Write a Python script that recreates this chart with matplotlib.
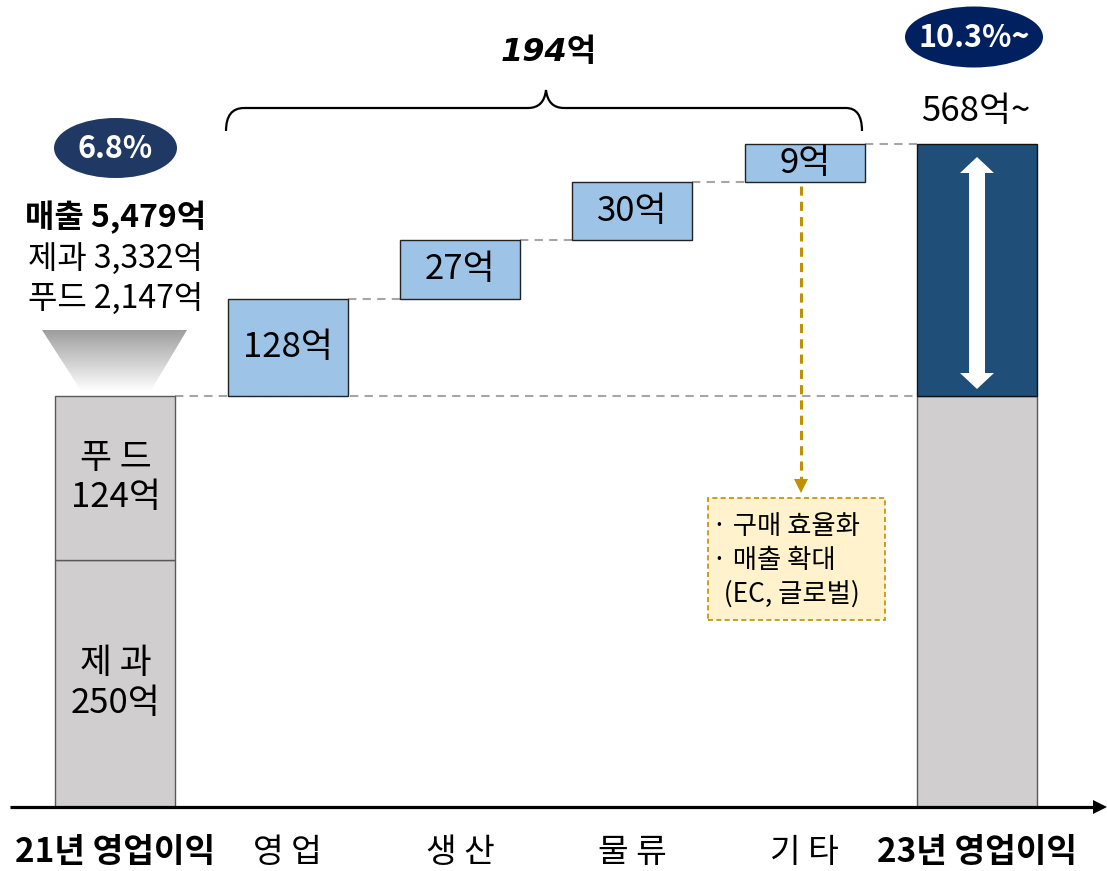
import matplotlib
matplotlib.use('Agg')
import matplotlib.pyplot as plt
import numpy as np
from matplotlib.patches import Ellipse, Polygon, Rectangle, PathPatch
from matplotlib.path import Path

plt.rcParams['font.family'] = ['Noto Sans CJK KR', 'DejaVu Sans']

# ---------------- data ----------------
categories = ['21년 영업이익', '영 업', '생 산', '물 류', '기 타', '23년 영업이익']
bold_category = [True, False, False, False, False, True]

seg_names_2021 = ['제 과', '푸 드']
seg_values_2021 = [250, 124]          # 억
seg_heights_2021 = [247, 164]         # drawn heights as shown (chart not to scale)

step_values = [128, 27, 30, 9]        # 억
step_heights = [97, 59, 58, 38]       # drawn heights as shown

total_2023_label = '568억~'
increase_label = '194억'
margin_2021 = '6.8%'
margin_2023 = '10.3%~'
sales_lines = ['매출 5,479억', '제과 3,332억', '푸드 2,147억']
note_lines = ['· 구매 효율화', '· 매출 확대', '  (EC, 글로벌)']

# ---------------- colours ----------------
GRAY = '#D0CECE'
BLUE = '#9DC3E6'
NAVY = '#1F4E79'
OVAL1 = '#203864'
OVAL2 = '#002060'
GOLD = '#BF9000'

W, H = 1107, 871
fig = plt.figure(figsize=(W / 100, H / 100), dpi=100)
ax = fig.add_axes([0, 0, 1, 1])
ax.set_axis_off()

X0, DX = 115.5, 172.3      # pixel centre of first category, spacing
BASE = 807                 # pixel row of x axis
ax.set_xlim(-X0 / DX, (W - X0) / DX)
ax.set_ylim(BASE - H, BASE)

def px(x):
    return (x - X0) / DX

def py(y):
    return BASE - y

bw = 120 / DX
xs = np.arange(len(categories))
FS = 25

# ---- 2021 stacked bar ----
bottom = 0
for name, val, h in zip(seg_names_2021, seg_values_2021, seg_heights_2021):
    ax.bar(xs[0], h, bottom=bottom, width=bw, color=GRAY, edgecolor='#595959', linewidth=1.0, zorder=3)
    ax.text(xs[0], bottom + h / 2, f'{name}\n{val}억', ha='center', va='center',
            fontsize=FS, linespacing=1.18, zorder=5)
    bottom += h
base_top = bottom

# ---- steps ----
cum = base_top
step_tops = []
for i, (val, h) in enumerate(zip(step_values, step_heights)):
    x = xs[i + 1]
    ax.bar(x, h, bottom=cum, width=bw, color=BLUE, edgecolor='#222222', linewidth=1.0, zorder=3)
    ax.text(x, cum + h / 2, f'{val}억', ha='center', va='center', fontsize=FS, zorder=5)
    cum += h
    step_tops.append(cum)

# ---- 2023 bar ----
ax.bar(xs[-1], base_top, width=bw, color=GRAY, edgecolor='#595959', linewidth=1.0, zorder=3)
ax.bar(xs[-1], cum - base_top, bottom=base_top, width=bw, color=NAVY, edgecolor='#111111',
       linewidth=1.0, zorder=3)

# connectors
dash = dict(color='#A6A6A6', linestyle=(0, (4, 3)), linewidth=1.5, zorder=2)
ax.plot([xs[0] + bw / 2, xs[-1] - bw / 2], [base_top, base_top], **dash)
for i, top in enumerate(step_tops[:-1]):
    ax.plot([xs[i + 1] + bw / 2, xs[i + 2] - bw / 2], [top, top], **dash)
ax.plot([xs[4] + bw / 2, xs[-1] - bw / 2], [step_tops[-1], step_tops[-1]], **dash)

# double white arrow in navy bar
cx = 977
pts = [(cx, 157), (cx + 17, 173), (cx + 8, 173), (cx + 8, 373), (cx + 17, 373), (cx, 389),
       (cx - 17, 373), (cx - 8, 373), (cx - 8, 173), (cx - 17, 173)]
ax.add_patch(Polygon([(px(a), py(b)) for a, b in pts], closed=True, fc='white', ec='none', zorder=6))

# x axis with arrow
ax.plot([px(10), px(1097)], [0, 0], color='black', linewidth=2.3, zorder=4, solid_capstyle='butt')
ax.add_patch(Polygon([(px(1093), py(800)), (px(1107), py(807)), (px(1093), py(814))],
                     closed=True, fc='black', ec='none', zorder=4))

# category labels
for x, lab, b in zip(xs, categories, bold_category):
    ax.text(x, py(852), lab, ha='center', va='center', fontsize=24,
            fontweight='bold' if b else 'normal')

# ovals
ax.add_patch(Ellipse((px(115.5), py(148)), 123 / DX, 60, fc=OVAL1, ec='none', zorder=4))
ax.text(px(115.5), py(149), margin_2021, ha='center', va='center', fontsize=22,
        fontweight='bold', color='white', zorder=5)
ax.add_patch(Ellipse((px(974), py(37)), 138 / DX, 61, fc=OVAL2, ec='none', zorder=4))
ax.text(px(974), py(38), margin_2023, ha='center', va='center', fontsize=22,
        fontweight='bold', color='white', zorder=5)

ax.text(xs[-1] - 0.01, py(112), total_2023_label, ha='center', va='center', fontsize=FS)

# sales text
for i, (line, yy) in enumerate(zip(sales_lines, [217, 259, 299])):
    ax.text(xs[0], py(yy), line, ha='center', va='center', fontsize=23,
            fontweight='bold' if i == 0 else 'normal')

# gradient trapezoid
trap = Polygon([(px(42), py(330)), (px(187), py(330)), (px(150), py(392)), (px(82), py(392))],
               closed=True, fc='none', ec='none')
ax.add_patch(trap)
grad = np.linspace(0.62, 1.0, 100).reshape(-1, 1)
im = ax.imshow(grad, cmap='gray', vmin=0, vmax=1, aspect='auto',
               extent=[px(42), px(187), py(392), py(330)], zorder=2, interpolation='bilinear')
im.set_clip_path(trap)

# brace
verts = [(226, 131), (226, 108), (244, 108), (528, 108), (544, 108), (546, 90),
         (548, 108), (564, 108), (846, 108), (862, 108), (862, 131)]
verts = [(px(a), py(b)) for a, b in verts]
codes = [Path.MOVETO, Path.CURVE3, Path.CURVE3, Path.LINETO, Path.CURVE3, Path.CURVE3,
         Path.CURVE3, Path.CURVE3, Path.LINETO, Path.CURVE3, Path.CURVE3]
ax.add_patch(PathPatch(Path(verts, codes), fc='none', ec='black', lw=1.6, zorder=4))
ax.text(px(549), py(52), increase_label, ha='center', va='center', fontsize=23,
        fontweight='bold', style='italic', family=['DejaVu Sans', 'Noto Sans CJK KR'])

# gold dashed arrow + note box
ax.plot([px(801), px(801)], [py(186), py(480)], color=GOLD, linestyle=(0, (3, 2)),
        linewidth=2.2, zorder=4)
ax.add_patch(Polygon([(px(794), py(479)), (px(808), py(479)), (px(801), py(493))],
                     closed=True, fc=GOLD, ec='none', zorder=4))
ax.add_patch(Rectangle((px(708), py(620)), (885 - 708) / DX, 122, fc='#FFF2CC', ec=GOLD,
                       lw=1.2, linestyle=(0, (3, 2)), zorder=3))
for line, yy in zip(note_lines, [527, 561, 594]):
    ax.text(px(712), py(yy), line, ha='left', va='center', fontsize=19, zorder=5)

fig.savefig('out.png', dpi=100)
